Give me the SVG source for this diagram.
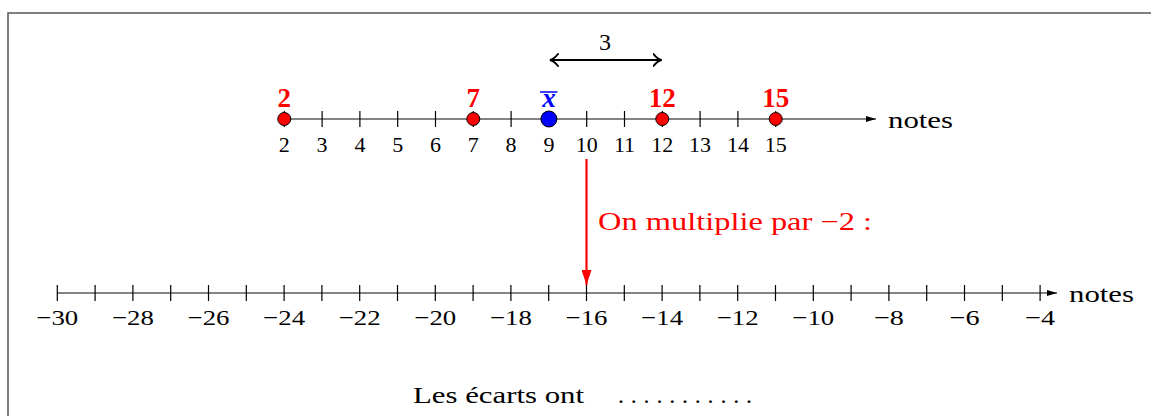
<svg xmlns="http://www.w3.org/2000/svg" width="1151" height="416" viewBox="0 0 1151 416">
<style>
text{font-family:"Liberation Serif","Times New Roman",serif;fill:#000}
.lbl{font-size:22px;text-anchor:middle}
.neg{font-size:22px;text-anchor:middle}
.big{font-size:24px}
.red{font-size:27px;font-weight:bold;fill:#ff0000;text-anchor:middle}
.axis{stroke:#5a5a5a;stroke-width:1.5;fill:none}
.tick{stroke:#000;stroke-width:1.2}
.dot{fill:#ff0000;stroke:#000;stroke-width:1}
</style>
<defs>
<marker id="tri" viewBox="0 0 10 6" refX="10" refY="3" markerWidth="10" markerHeight="6" markerUnits="userSpaceOnUse" orient="auto">
<path d="M0,0 L10,3 L0,6 z" fill="#000"/>
</marker>
<marker id="redtri" viewBox="0 0 15 10" refX="15" refY="5" markerWidth="15" markerHeight="10" markerUnits="userSpaceOnUse" orient="auto">
<path d="M0,0 L15,5 L0,10 z" fill="#ff0000"/>
</marker>
<marker id="chev" viewBox="0 0 10 14" refX="9" refY="7" markerWidth="10" markerHeight="14" markerUnits="userSpaceOnUse" orient="auto-start-reverse">
<path d="M1,1 Q5,6 9,7 Q5,8 1,13" fill="none" stroke="#000" stroke-width="2" stroke-linecap="round"/>
</marker>
</defs>
<path d="M8,416 V13 H1151" fill="none" stroke="#555" stroke-width="1.5"/>

<g id="axis-top">
<line class="axis" x1="284.3" y1="119" x2="876" y2="119" marker-end="url(#tri)"/>
<g class="tick">
<line x1="322.1" y1="111" x2="322.1" y2="127"/>
<line x1="359.9" y1="111" x2="359.9" y2="127"/>
<line x1="397.7" y1="111" x2="397.7" y2="127"/>
<line x1="435.5" y1="111" x2="435.5" y2="127"/>
<line x1="473.3" y1="111" x2="473.3" y2="127"/>
<line x1="511.1" y1="111" x2="511.1" y2="127"/>
<line x1="548.9" y1="111" x2="548.9" y2="127"/>
<line x1="586.7" y1="111" x2="586.7" y2="127"/>
<line x1="624.5" y1="111" x2="624.5" y2="127"/>
<line x1="662.3" y1="111" x2="662.3" y2="127"/>
<line x1="700.1" y1="111" x2="700.1" y2="127"/>
<line x1="737.9" y1="111" x2="737.9" y2="127"/>
<line x1="775.7" y1="111" x2="775.7" y2="127"/>
<line x1="284.3" y1="111" x2="284.3" y2="127"/>
</g>
<text class="lbl" x="284.3" y="152">2</text>
<text class="lbl" x="322.1" y="152">3</text>
<text class="lbl" x="359.9" y="152">4</text>
<text class="lbl" x="397.7" y="152">5</text>
<text class="lbl" x="435.5" y="152">6</text>
<text class="lbl" x="473.3" y="152">7</text>
<text class="lbl" x="511.1" y="152">8</text>
<text class="lbl" x="548.9" y="152">9</text>
<text class="lbl" x="586.7" y="152">10</text>
<text class="lbl" x="624.5" y="152">11</text>
<text class="lbl" x="662.3" y="152">12</text>
<text class="lbl" x="700.1" y="152">13</text>
<text class="lbl" x="737.9" y="152">14</text>
<text class="lbl" x="775.7" y="152">15</text>
<text class="big" x="888" y="128" textLength="65" lengthAdjust="spacingAndGlyphs">notes</text>
</g>

<g id="point-2"><circle class="dot" cx="284.3" cy="119" r="6.5"/><text class="red" x="284.3" y="107">2</text></g>
<g id="point-7"><circle class="dot" cx="473.3" cy="119" r="6.5"/><text class="red" x="473.3" y="107">7</text></g>
<g id="point-12"><circle class="dot" cx="662.3" cy="119" r="6.5"/><text class="red" x="662.3" y="107">12</text></g>
<g id="point-15"><circle class="dot" cx="775.7" cy="119" r="6.5"/><text class="red" x="775.7" y="107">15</text></g>
<g id="mean">
<circle cx="548.9" cy="119" r="8" fill="#0000ff" stroke="#000" stroke-width="1"/>
<text x="548.9" y="107" font-size="27" font-weight="bold" font-style="italic" text-anchor="middle" style="fill:#0000ff">x</text>
<line x1="540" y1="92" x2="557.5" y2="92" stroke="#0000ff" stroke-width="1.5"/>
</g>

<g id="gap">
<line x1="550" y1="60" x2="661.5" y2="60" stroke="#000" stroke-width="2" marker-start="url(#chev)" marker-end="url(#chev)"/>
<text x="605" y="50" style="font-size:24px" text-anchor="middle">3</text>
</g>

<g id="axis-bottom">
<line class="axis" x1="57.3" y1="293" x2="1057" y2="293" marker-end="url(#tri)"/>
<g class="tick">
<line x1="57.3" y1="285" x2="57.3" y2="301"/>
<line x1="95.1" y1="285" x2="95.1" y2="301"/>
<line x1="132.9" y1="285" x2="132.9" y2="301"/>
<line x1="170.7" y1="285" x2="170.7" y2="301"/>
<line x1="208.5" y1="285" x2="208.5" y2="301"/>
<line x1="246.3" y1="285" x2="246.3" y2="301"/>
<line x1="284.1" y1="285" x2="284.1" y2="301"/>
<line x1="321.9" y1="285" x2="321.9" y2="301"/>
<line x1="359.7" y1="285" x2="359.7" y2="301"/>
<line x1="397.5" y1="285" x2="397.5" y2="301"/>
<line x1="435.3" y1="285" x2="435.3" y2="301"/>
<line x1="473.1" y1="285" x2="473.1" y2="301"/>
<line x1="510.9" y1="285" x2="510.9" y2="301"/>
<line x1="548.7" y1="285" x2="548.7" y2="301"/>
<line x1="586.5" y1="285" x2="586.5" y2="301"/>
<line x1="624.3" y1="285" x2="624.3" y2="301"/>
<line x1="662.1" y1="285" x2="662.1" y2="301"/>
<line x1="699.9" y1="285" x2="699.9" y2="301"/>
<line x1="737.7" y1="285" x2="737.7" y2="301"/>
<line x1="775.5" y1="285" x2="775.5" y2="301"/>
<line x1="813.3" y1="285" x2="813.3" y2="301"/>
<line x1="851.1" y1="285" x2="851.1" y2="301"/>
<line x1="888.9" y1="285" x2="888.9" y2="301"/>
<line x1="926.7" y1="285" x2="926.7" y2="301"/>
<line x1="964.5" y1="285" x2="964.5" y2="301"/>
<line x1="1002.3" y1="285" x2="1002.3" y2="301"/>
<line x1="1040.1" y1="285" x2="1040.1" y2="301"/>
</g>
<text class="neg" x="57.3" y="325" textLength="42" lengthAdjust="spacingAndGlyphs">−30</text>
<text class="neg" x="132.9" y="325" textLength="42" lengthAdjust="spacingAndGlyphs">−28</text>
<text class="neg" x="208.5" y="325" textLength="42" lengthAdjust="spacingAndGlyphs">−26</text>
<text class="neg" x="284.1" y="325" textLength="42" lengthAdjust="spacingAndGlyphs">−24</text>
<text class="neg" x="359.7" y="325" textLength="42" lengthAdjust="spacingAndGlyphs">−22</text>
<text class="neg" x="435.3" y="325" textLength="42" lengthAdjust="spacingAndGlyphs">−20</text>
<text class="neg" x="510.9" y="325" textLength="42" lengthAdjust="spacingAndGlyphs">−18</text>
<text class="neg" x="586.5" y="325" textLength="42" lengthAdjust="spacingAndGlyphs">−16</text>
<text class="neg" x="662.1" y="325" textLength="42" lengthAdjust="spacingAndGlyphs">−14</text>
<text class="neg" x="737.7" y="325" textLength="42" lengthAdjust="spacingAndGlyphs">−12</text>
<text class="neg" x="813.3" y="325" textLength="42" lengthAdjust="spacingAndGlyphs">−10</text>
<text class="neg" x="888.9" y="325" textLength="30" lengthAdjust="spacingAndGlyphs">−8</text>
<text class="neg" x="964.5" y="325" textLength="30" lengthAdjust="spacingAndGlyphs">−6</text>
<text class="neg" x="1040.1" y="325" textLength="30" lengthAdjust="spacingAndGlyphs">−4</text>
<text class="big" x="1069" y="302" textLength="65" lengthAdjust="spacingAndGlyphs">notes</text>
</g>

<g id="connectors">
<line x1="586.5" y1="159" x2="586.5" y2="285" stroke="#ff0000" stroke-width="2.2" marker-end="url(#redtri)"/>
</g>
<text id="transform-label" x="598" y="230" font-size="25" style="fill:#ff0000" textLength="274" lengthAdjust="spacingAndGlyphs">On multiplie par −2 :</text>

<g id="conclusion">
<text class="big" x="413" y="403" textLength="171" lengthAdjust="spacingAndGlyphs">Les écarts ont</text>
<text class="big" x="618" y="403" textLength="134" lengthAdjust="spacing">...........</text>
</g>
</svg>
